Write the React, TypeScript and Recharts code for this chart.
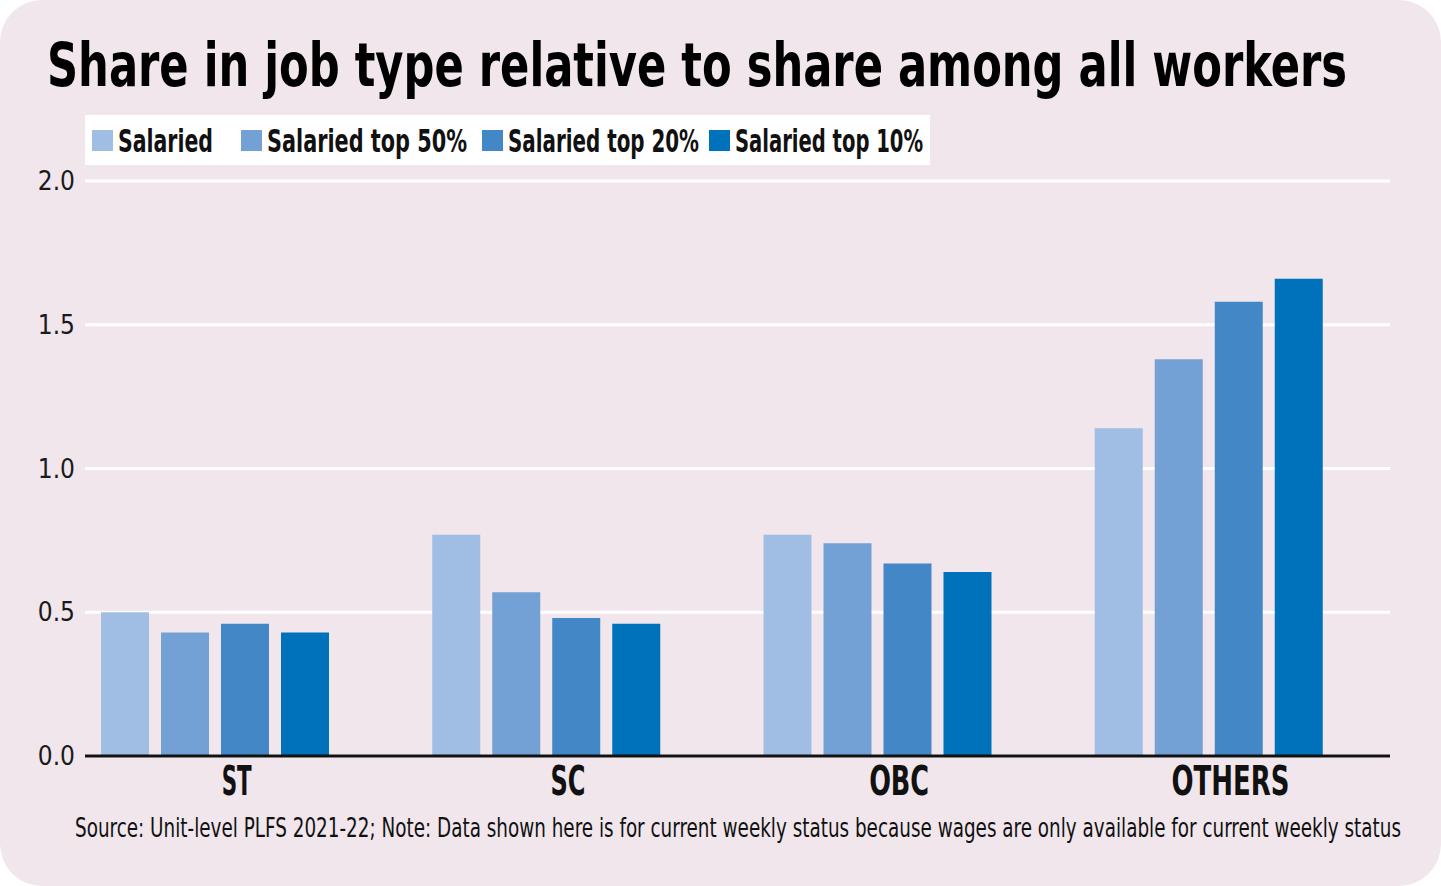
import React from "react";
import {
  BarChart,
  Bar,
  XAxis,
  YAxis,
  CartesianGrid,
  Legend,
} from "recharts";

const groups = ["ST", "SC", "OBC", "OTHERS"];
const salaried = [0.5, 0.77, 0.77, 1.14];
const salariedTop50 = [0.43, 0.57, 0.74, 1.38];
const salariedTop20 = [0.46, 0.48, 0.67, 1.58];
const salariedTop10 = [0.43, 0.46, 0.64, 1.66];
const yTicks = [0, 0.5, 1, 1.5, 2];

const seriesNames = [
  "Salaried",
  "Salaried top 50%",
  "Salaried top 20%",
  "Salaried top 10%",
];
const seriesColors = ["#a0bde3", "#73a1d6", "#4487c7", "#0071bb"];
const legendTextWidths = [95, 200, 191, 188];
const legendGaps = [28, 15, 10, 0];

const data = groups.map((g, i) => ({
  group: g,
  s: salaried[i],
  s50: salariedTop50[i],
  s20: salariedTop20[i],
  s10: salariedTop10[i],
}));

const NARROW =
  '"Liberation Sans Narrow", "DejaVu Sans Condensed", "Roboto Condensed", Roboto, sans-serif';
const BG = "#f0e6ec";

const LegendBox = () => {
  let x = 7;
  return (
    <svg width={845} height={50}>
      <rect x={0} y={0} width={845} height={50} fill="#ffffff" />
      {seriesNames.map((name, i) => {
        const sx = x;
        x += 26 + legendTextWidths[i] + legendGaps[i];
        return (
          <g key={name}>
            <rect x={sx} y={15} width={21} height={21} fill={seriesColors[i]} />
            <text
              x={sx + 26}
              y={37}
              fontFamily={NARROW}
              fontWeight={700}
              fontSize={32}
              fill="#111"
              textLength={legendTextWidths[i]}
              lengthAdjust="spacingAndGlyphs"
            >
              {name}
            </text>
          </g>
        );
      })}
    </svg>
  );
};

const groupLabelWidths: Record<string, number> = {
  ST: 30,
  SC: 35,
  OBC: 60,
  OTHERS: 118,
};

const GroupTick = (props: any) => {
  const { x, y, payload } = props;
  return (
    <text
      x={x + 22}
      y={y + 31}
      textAnchor="middle"
      fontFamily={NARROW}
      fontWeight={700}
      fontSize={40}
      fill="#111"
      textLength={groupLabelWidths[payload.value]}
      lengthAdjust="spacingAndGlyphs"
    >
      {payload.value}
    </text>
  );
};

export default function App() {
  return (
    <div
      style={{
        position: "absolute",
        top: 0,
        left: 0,
        width: 1441,
        height: 886,
        background: BG,
        borderRadius: 42,
        overflow: "hidden",
      }}
    >
      <svg
        width={1441}
        height={886}
        style={{ position: "absolute", top: 0, left: 0 }}
      >
        <text
          x={47}
          y={86}
          fontFamily={NARROW}
          fontWeight={700}
          fontSize={60}
          fill="#000"
          textLength={1300}
          lengthAdjust="spacingAndGlyphs"
        >
          Share in job type relative to share among all workers
        </text>
        <text
          x={75}
          y={837}
          fontFamily={NARROW}
          fontSize={26}
          fill="#111"
          textLength={1326}
          lengthAdjust="spacingAndGlyphs"
        >
          Source: Unit-level PLFS 2021-22; Note: Data shown here is for current
          weekly status because wages are only available for current weekly
          status
        </text>
      </svg>
      <div style={{ position: "absolute", top: 0, left: 0 }}>
        <BarChart
          width={1441}
          height={886}
          data={data}
          margin={{ top: 181, right: 51, bottom: 100, left: 25 }}
          barSize={48}
          barGap={12}
        >
          <CartesianGrid
            vertical={false}
            stroke="#ffffff"
            strokeWidth={3}
          />
          <XAxis
            dataKey="group"
            padding={{ left: -36, right: 16 }}
            axisLine={{ stroke: "#111", strokeWidth: 3 }}
            tickLine={false}
            tick={<GroupTick />}
            interval={0}
          />
          <YAxis
            width={60}
            domain={[0, 2]}
            ticks={yTicks}
            axisLine={false}
            tickLine={false}
            tickSize={8}
            tickFormatter={(v: number) => v.toFixed(1)}
            tick={{ fontSize: 26, fill: "#1a1a1a", fontFamily: NARROW }}
          />
          <Legend
            layout="horizontal"
            verticalAlign="middle"
            content={() => <LegendBox />}
            wrapperStyle={{ top: 115, left: 85, width: 845, height: 50 }}
          />
          <Bar dataKey="s" name={seriesNames[0]} fill={seriesColors[0]} isAnimationActive={false} />
          <Bar dataKey="s50" name={seriesNames[1]} fill={seriesColors[1]} isAnimationActive={false} />
          <Bar dataKey="s20" name={seriesNames[2]} fill={seriesColors[2]} isAnimationActive={false} />
          <Bar dataKey="s10" name={seriesNames[3]} fill={seriesColors[3]} isAnimationActive={false} />
        </BarChart>
      </div>
    </div>
  );
}
